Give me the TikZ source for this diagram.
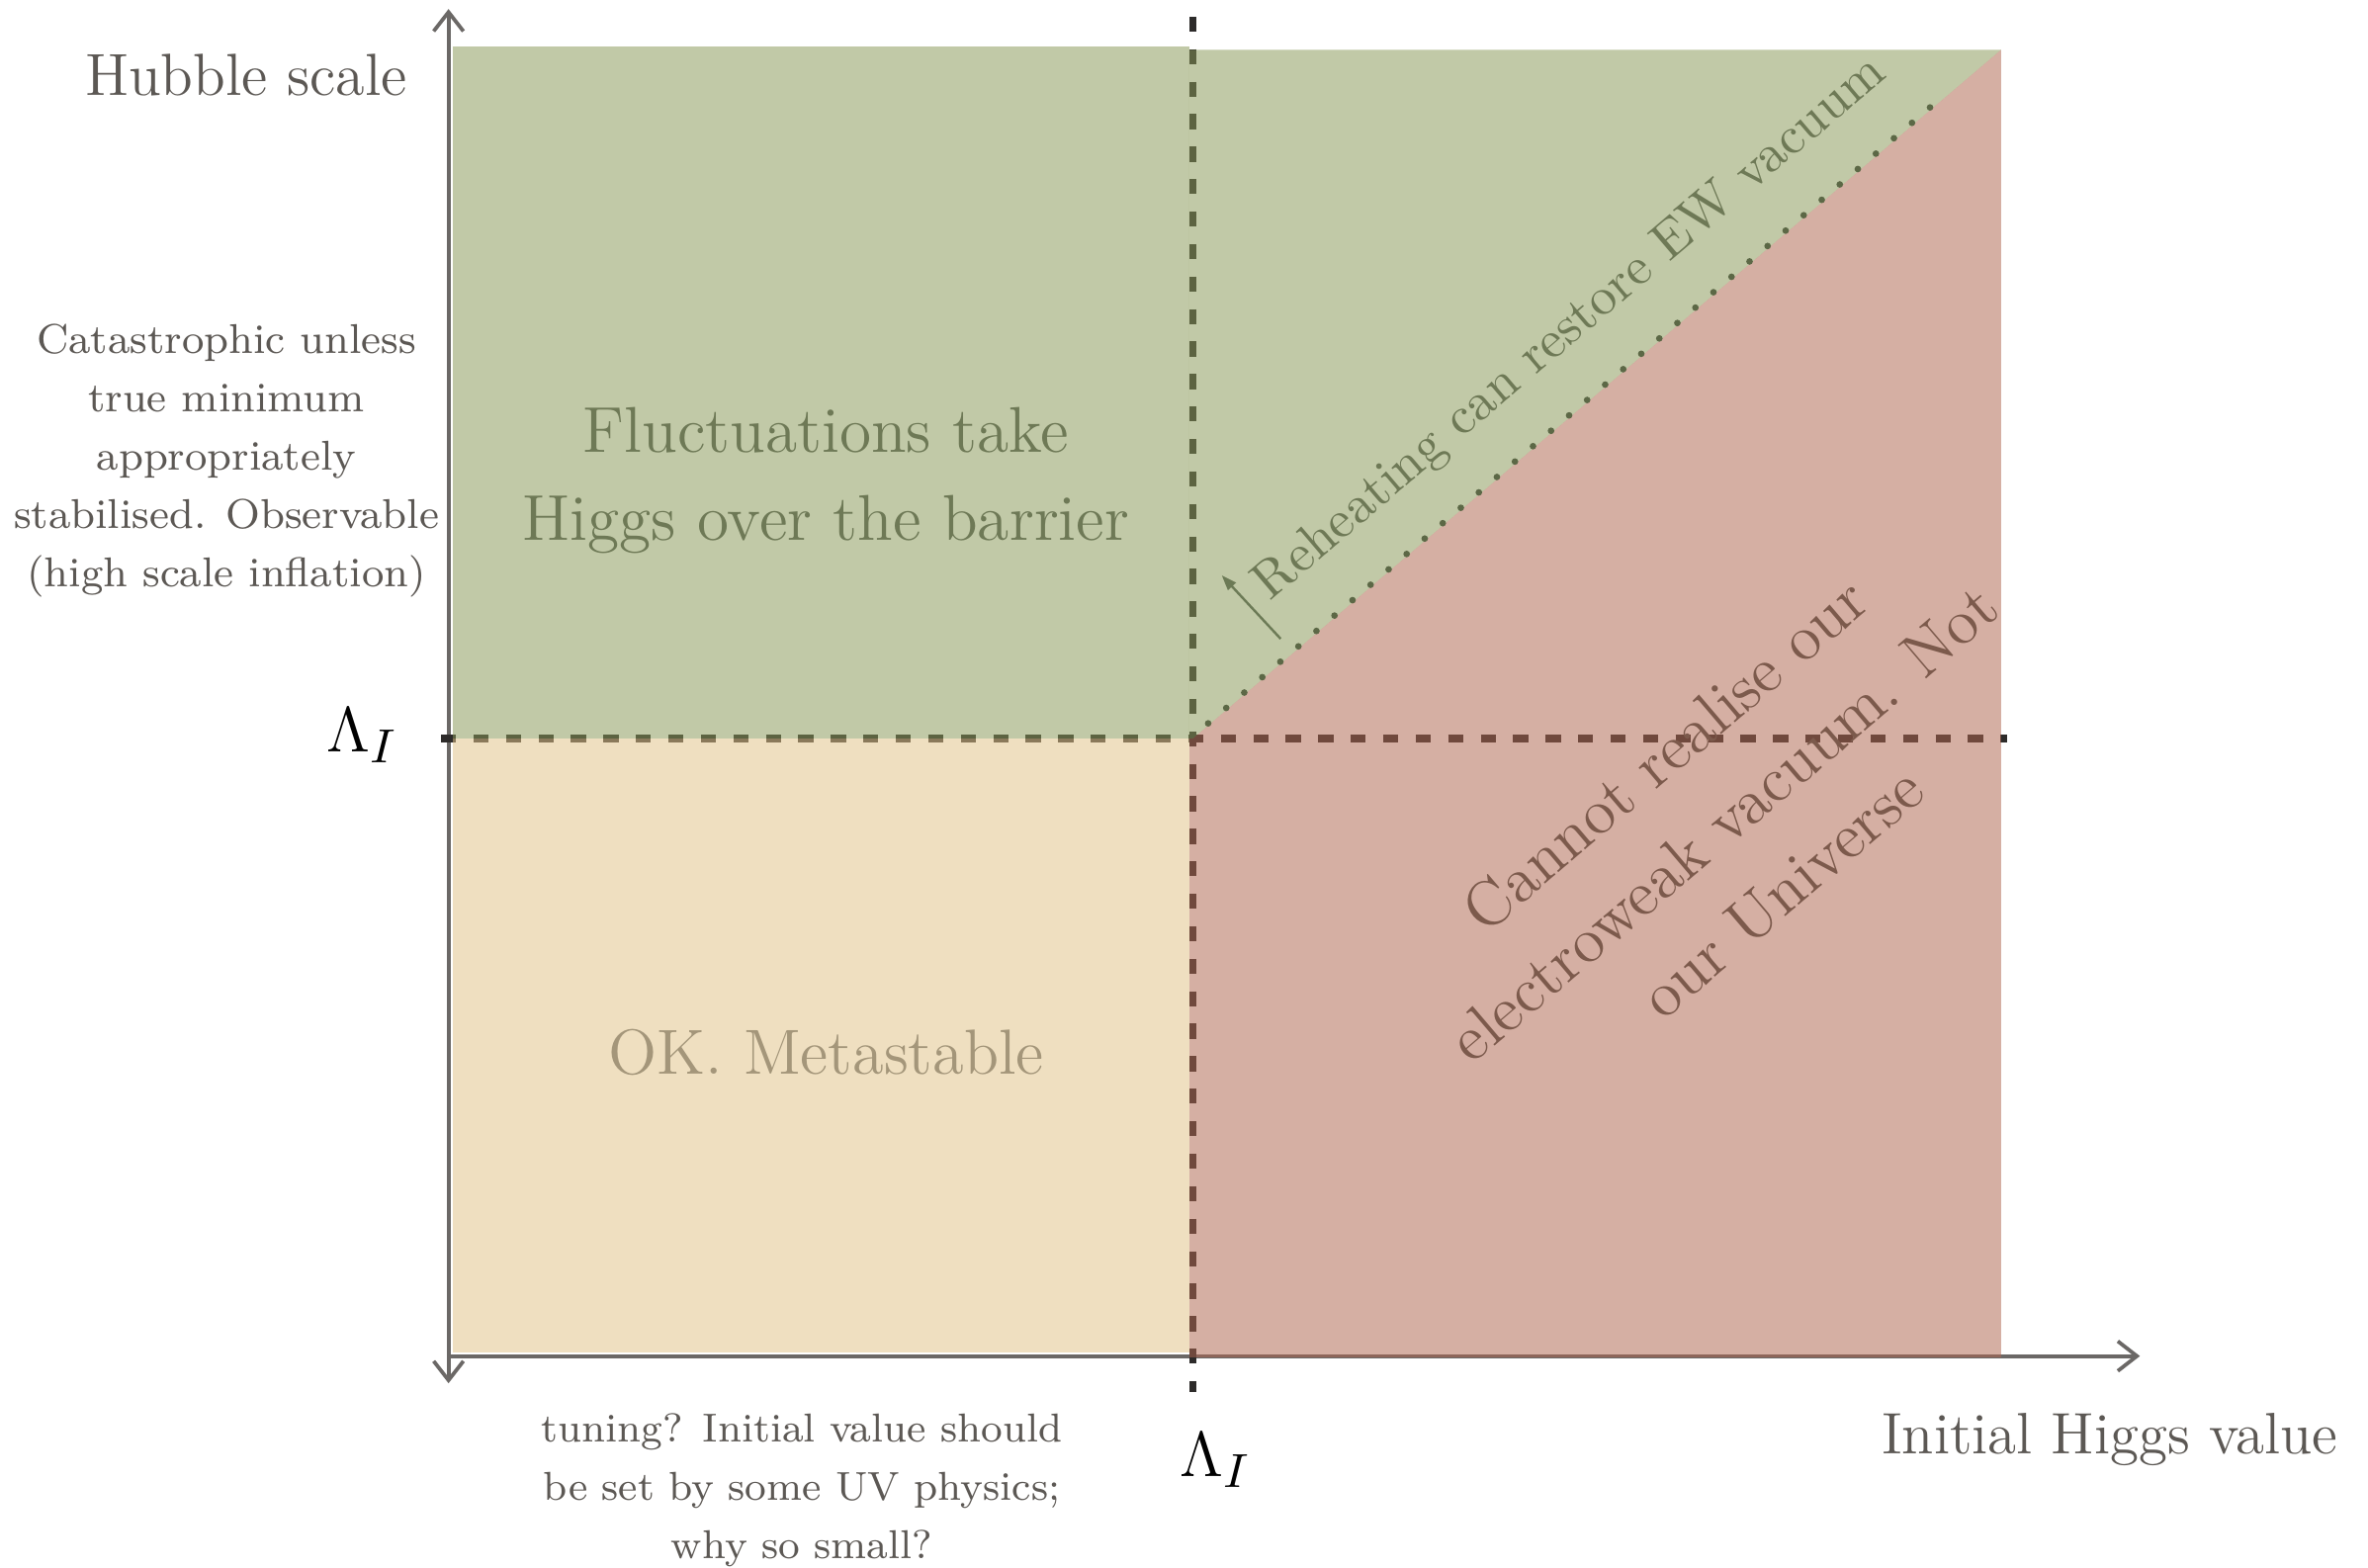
\documentclass[tikz,border=0pt]{standalone}
\usetikzlibrary{arrows.meta}
\definecolor{axisgray}{RGB}{107,104,102}
\definecolor{dashdark}{RGB}{45,43,42}
\definecolor{fillgreen}{RGB}{137,152,87}
\definecolor{fillred}{RGB}{175,102,79}
\definecolor{fillbeige}{RGB}{224,194,135}
\definecolor{dotgreen}{RGB}{92,104,70}
\definecolor{arrgreen}{RGB}{108,122,86}
\definecolor{txtgray}{RGB}{92,88,84}
\definecolor{txtgreen}{RGB}{110,121,86}
\definecolor{txtbrown}{RGB}{124,90,76}
\definecolor{txttan}{RGB}{164,150,122}
\tikzset{
  axisline/.style={draw=axisgray, line width=0.7pt},
  dashline/.style={draw=dashdark, line width=1.4pt, dash pattern=on 0.1cm off 0.115cm},
  region/.style={fill opacity=0.523},
  dotline/.style={draw=dotgreen, line width=1.25pt, line cap=round, dash pattern=on 0pt off 0.157cm},
  lbl/.style={inner sep=0pt, align=center},
}
\begin{document}
\begin{tikzpicture}[x=0.01cm, y=-0.01cm]
\useasboundingbox (0,0) rectangle (1568,1038);
% axes
\coordinate (ytop) at (297,6);
\coordinate (ybot) at (297,916);
\coordinate (xstart) at (297,898);
\coordinate (xend) at (1417,898);
\draw[axisline, {Straight Barb[length=3.6pt,width=5.6pt]}-{Straight Barb[length=3.6pt,width=5.6pt]}] (ybot) -- (ytop);
\draw[axisline, -{Straight Barb[length=3.6pt,width=5.6pt]}] (xstart) -- (xend);
% dashed lines
\coordinate (vtop) at (790,11);
\coordinate (vbot) at (790,922);
\coordinate (hleft) at (292,489);
\coordinate (hright) at (1329,489);
\draw[dashline] (vtop) -- (vbot);
\draw[dashline] (hleft) -- (hright);
% regions
\fill[fillgreen, region] (300,31) rectangle (787.5,489);
\fill[fillgreen, region] (787.5,33) -- (1325,33) -- (790,489) -- (787.5,489) -- cycle;
\fill[fillbeige, region] (300,489) rectangle (787.5,895.5);
\fill[fillred, region] (790,489) -- (1325,33) -- (1325,489) -- cycle;
\fill[fillred, region] (787.5,489) rectangle (1325,899);
% dotted boundary
\coordinate (dotA) at (800,479);
\coordinate (dotB) at (1284,66);
\draw[dotline] (dotA) -- (dotB);
% small arrow
\coordinate (arrA) at (848,423);
\coordinate (arrB) at (809,381);
\draw[draw=arrgreen, line width=0.45pt, -{Triangle[length=0.1cm,width=0.07cm]}] (arrA) -- (arrB);
% labels
\node[lbl, text=txtgray, font=\fontsize{11.2}{13}\selectfont] (hubble) at (163,50) {Hubble scale};
\node[lbl, text=txtgray, font=\fontsize{11}{13}\selectfont] (higgsval) at (1397,953) {Initial Higgs value};
\node[lbl, font=\fontsize{12.5}{14}\selectfont] (lamY) at (240,487) {$\Lambda_I$};
\node[lbl, font=\fontsize{12.5}{14}\selectfont] (lamX) at (805,967) {$\Lambda_I$};
\node[lbl, text=txtgray, font=\fontsize{7.85}{10.95}\selectfont] (catast) at (150,305)
  {Catastrophic unless\\true minimum\\appropriately\\stabilised. Observable\\(high scale inflation)};
\node[lbl, text=txtgray, font=\fontsize{7.6}{10.95}\selectfont] (tuning) at (531,987)
  {tuning? Initial value should\\be set by some UV physics;\\why so small?};
\node[lbl, text=txtgreen, font=\fontsize{12.2}{16.5}\selectfont] (fluct) at (547,318)
  {Fluctuations take\\Higgs over the barrier};
\node[lbl, text=txttan, font=\fontsize{12}{14}\selectfont] (okmeta) at (547,697) {OK. Metastable};
\node[lbl, text=txtgreen, font=\fontsize{10}{12}\selectfont, rotate=40.4] (reheat) at (1040,218)
  {Reheating can restore EW vacuum};
\node[lbl, text=txtbrown, font=\fontsize{12.1}{17}\selectfont, rotate=40.4] (cannot) at (1141,545)
  {Cannot realise our\\electroweak vacuum. Not\\our Universe};
\end{tikzpicture}
\end{document}
